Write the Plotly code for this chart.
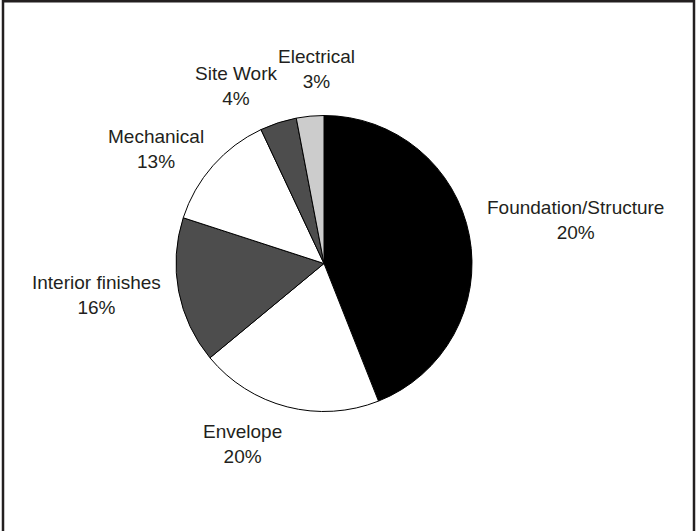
import plotly.graph_objects as go

# ---- data ----
categories = ["Foundation/Structure", "Envelope", "Interior finishes", "Mechanical", "Site Work", "Electrical"]
values = [44, 20, 16, 13, 4, 3]
label_pcts = ["20%", "20%", "16%", "13%", "4%", "3%"]

# ---- style / layout ----
W, H = 696, 531
colors = ["#000000", "#ffffff", "#4d4d4d", "#ffffff", "#4d4d4d", "#cccccc"]
text_color = "#231f20"
font_family = "Liberation Sans, Arial, Helvetica, sans-serif"
font_size = 19
cx, cy, r = 324, 263.5, 148  # pie centre / radius in px
label_px = [(575.5, 219.6), (242.5, 444), (96.7, 294.5), (155.5, 149), (236.7, 86), (316, 69)]

fig = go.Figure(go.Pie(
    labels=categories,
    values=values,
    sort=False,
    direction="clockwise",
    rotation=0,
    marker=dict(colors=colors, line=dict(color="#000000", width=1)),
    textinfo="none",
    hoverinfo="label+percent",
    showlegend=False,
    domain=dict(x=[(cx - r) / W, (cx + r) / W], y=[1 - (cy + r) / H, 1 - (cy - r) / H]),
))

annotations = []
for name, pct, (px, py) in zip(categories, label_pcts, label_px):
    annotations.append(dict(
        text=f"{name}<br>{pct}",
        x=px / W, y=1 - py / H, xref="paper", yref="paper",
        xanchor="center", yanchor="middle", showarrow=False, align="center",
        font=dict(family=font_family, size=font_size, color=text_color),
    ))

fig.update_layout(
    width=W, height=H,
    margin=dict(l=0, r=0, t=0, b=0),
    paper_bgcolor="#ffffff",
    plot_bgcolor="#ffffff",
    annotations=annotations,
    shapes=[dict(type="rect", xref="paper", yref="paper",
                 x0=3 / W, x1=694 / W, y0=-0.05, y1=1 - 1.2 / H,
                 line=dict(color="#231f20", width=2.5), fillcolor="rgba(0,0,0,0)")],
)

fig.write_html(
    "out.html",
    config={"displayModeBar": False},
    post_script="document.body.style.margin='0';document.body.style.overflow='hidden';",
)
